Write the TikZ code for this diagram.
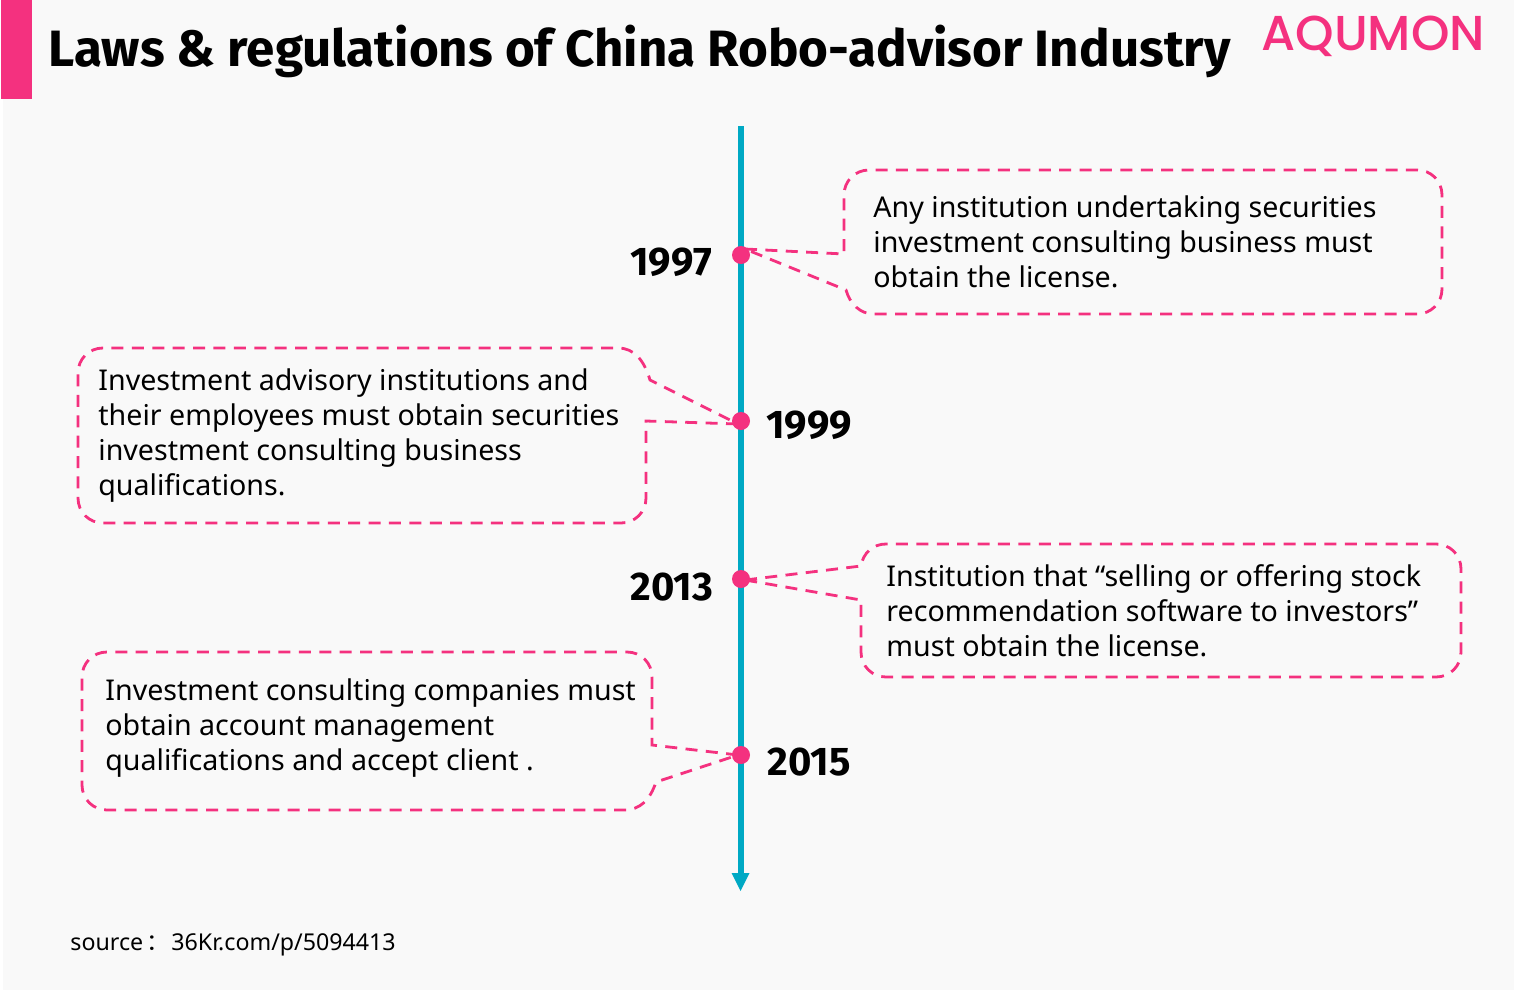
\documentclass[tikz,border=0pt]{standalone}
\usepackage{fontspec}
\setmainfont{Noto Sans}
\newfontfamily\headfont{Fira Sans}[BoldFont={Fira Sans Bold}]
\newfontfamily\logofont{Poppins Medium}
\newfontfamily\cjkfont{Noto Sans CJK SC}
\definecolor{pinkc}{HTML}{F4317F}
\definecolor{tealc}{HTML}{00A9C4}
\definecolor{bgc}{HTML}{F9F9F9}
\tikzset{
  x=0.5pt,y=-0.5pt,
  callout/.style={draw=pinkc,line width=1.4pt,dash pattern=on 6pt off 4.2pt},
  bodytext/.style={anchor=north west,inner sep=0pt,align=left,text=black,font=\fontsize{14.3}{17.5}\selectfont},
  yeartext/.style={anchor=center,inner sep=0pt,text=black,font=\headfont\bfseries\fontsize{20}{24}\selectfont},
  dotn/.style={circle,fill=pinkc,inner sep=0pt,minimum size=9pt}
}
\begin{document}
\begin{tikzpicture}
\useasboundingbox (0,0) rectangle (1514,991);
\fill[white] (0,0) rectangle (1514,991);
\fill[bgc] (3,0) rectangle (1514,990);
\fill[pinkc] (1,0) rectangle (32,99);
\node[anchor=west,inner sep=0pt,font=\headfont\bfseries\fontsize{25.55}{30}\selectfont] (title) at (48,51) {Laws \& regulations of China Robo-advisor Industry};
\node[anchor=west,inner sep=0pt,text=pinkc,font=\logofont\fontsize{24.5}{28}\selectfont] (logo) at (1261,36) {AQUMON};
% timeline
\coordinate (tstart) at (741,126);
\coordinate (tend) at (741,875);
\coordinate (tipL) at (731.5,873);
\coordinate (tipR) at (749.5,873);
\coordinate (tipB) at (740.5,891);
\draw[tealc,line width=3pt] (tstart) -- (tend);
\fill[tealc] (tipL) -- (tipR) -- (tipB) -- cycle;
% callouts
\coordinate (a1) at (745,249);
\coordinate (a2) at (738,424);
\coordinate (a3) at (745,580);
\coordinate (a4) at (738,755);
\draw[callout] (a1) -- (844,254) -- (844,195) .. controls (844,181) and (855,170) .. (869,170) -- (1417,170) .. controls (1431,170) and (1442,181) .. (1442,195) -- (1442,289) .. controls (1442,303) and (1431,314) .. (1417,314) -- (874,314) .. controls (860,314) and (850,304) .. (846,290) -- (a1);
\draw[callout] (a2) -- (646,421) -- (646,498) .. controls (646,512) and (635,523) .. (621,523) -- (103,523) .. controls (89,523) and (78,512) .. (78,498) -- (78,373) .. controls (78,359) and (89,348) .. (103,348) -- (618,348) .. controls (634,348) and (644,360) .. (650,380) -- (a2);
\draw[callout] (a3) -- (861,566) .. controls (863,553) and (873,544) .. (886,544) -- (1436,544) .. controls (1450,544) and (1461,555) .. (1461,569) -- (1461,652) .. controls (1461,666) and (1450,677) .. (1436,677) -- (886,677) .. controls (872,677) and (861,666) .. (861,652) -- (861,600) -- (a3);
\draw[callout] (a4) -- (652,745) -- (652,677) .. controls (652,663) and (641,652) .. (627,652) -- (107,652) .. controls (93,652) and (82,663) .. (82,677) -- (82,785) .. controls (82,799) and (93,810) .. (107,810) -- (624,810) .. controls (640,810) and (650,800) .. (656,782) -- (a4);
% dots
\node[dotn] (d1) at (741,255) {};
\node[dotn] (d2) at (741,421) {};
\node[dotn] (d3) at (741,579) {};
\node[dotn] (d4) at (741,755) {};
% years
\node[yeartext] (y1) at (671,262) {1997};
\node[yeartext] (y2) at (809,425) {1999};
\node[yeartext] (y3) at (672,587) {2013};
\node[yeartext] (y4) at (809,762) {2015};
% texts
\node[bodytext] (t1) at (873,195) {Any institution undertaking securities\\investment consulting business must\\obtain the license.};
\node[bodytext] (t2) at (98,368) {Investment advisory institutions and\\their employees must obtain securities\\investment consulting business\\qualifications.};
\node[bodytext] (t3) at (886,564) {Institution that “selling or offering stock\\recommendation software to investors”\\must obtain the license.};
\node[bodytext] (t4) at (105,678) {Investment consulting companies must\\obtain account management\\qualifications and accept client .};
\node[anchor=west,inner sep=0pt,font=\fontsize{11.6}{14}\selectfont] (src) at (70,945) {source\hspace{1.5pt}{\cjkfont ：}\hspace{1pt}36Kr.com/p/5094413};
\end{tikzpicture}
\end{document}
